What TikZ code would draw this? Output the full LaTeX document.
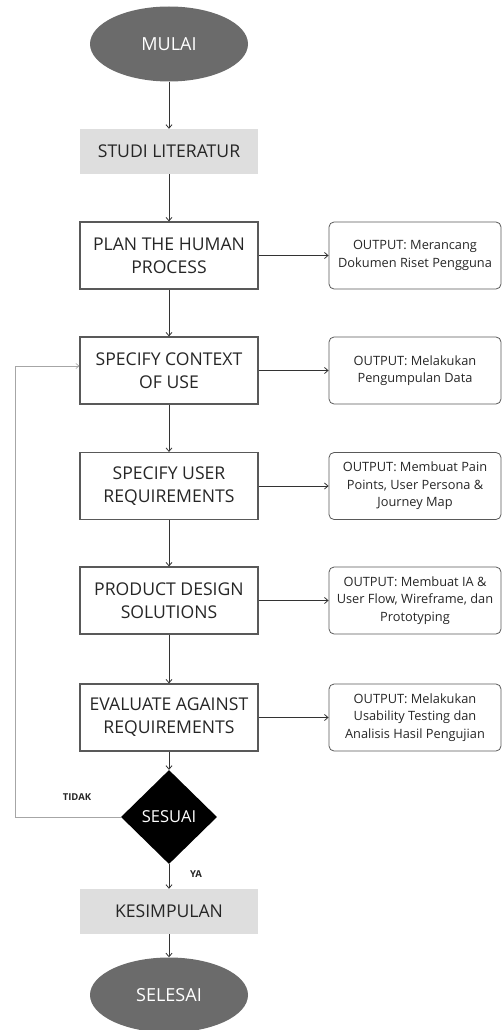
\documentclass[tikz,border=0pt]{standalone}
\usepackage{fontspec}
\setmainfont{Open Sans}
\usetikzlibrary{shapes.geometric,arrows.meta,positioning}
\begin{document}
\begin{tikzpicture}[x=1pt,y=-1pt,
  proc/.style={draw=black!65,line width=1.1pt,minimum width=178pt,minimum height=67pt,inner sep=0pt,align=center,font=\fontsize{17.6}{23}\selectfont,text=black!85},
  grayproc/.style={fill=black!13,draw=none,minimum width=178pt,minimum height=45pt,inner sep=0pt,font=\fontsize{17.6}{22}\selectfont,text=black!85},
  outbox/.style={draw=black!65,line width=0.8pt,rounded corners=5pt,minimum width=172pt,minimum height=67pt,inner sep=0pt,align=center,font=\fontsize{12.8}{17.6}\selectfont,text=black!85},
  term/.style={ellipse,fill=black!58,draw=none,minimum width=158pt,minimum height=75pt,inner sep=0pt,text=white,font=\fontsize{18}{20}\selectfont},
  decision/.style={diamond,fill=black,minimum width=96pt,minimum height=94pt,inner sep=0pt,text=white,font=\fontsize{16.5}{20}\selectfont},
  flow/.style={draw=black!80,line width=0.8pt,-{Straight Barb[length=3.5pt,width=6pt]}},
  back/.style={draw=black!35,line width=0.7pt,-{Straight Barb[length=3pt,width=5pt]}},
  lbl/.style={font=\bfseries\fontsize{9.5}{11}\selectfont,text=black!85}
]
\useasboundingbox (0,0) rectangle (502,1030);
\node[term] (mulai) at (169,44) {MULAI};
\node[grayproc] (studi) at (169,151.5) {STUDI LITERATUR};
\node[proc] (plan) at (169,255.5) {PLAN THE HUMAN\\PROCESS};
\node[proc] (ctx) at (169,370.5) {SPECIFY CONTEXT\\OF USE};
\node[proc] (user) at (169,486) {SPECIFY USER\\REQUIREMENTS};
\node[proc] (design) at (169,600.5) {PRODUCT DESIGN\\SOLUTIONS};
\node[proc] (eval) at (169,717.5) {EVALUATE AGAINST\\REQUIREMENTS};
\node[decision] (sesuai) at (169,817) {SESUAI};
\node[grayproc] (kes) at (169,911.5) {KESIMPULAN};
\node[term] (selesai) at (169,995) {SELESAI};

\node[outbox] (o1) at (415,255.5) {OUTPUT: Merancang\\Dokumen Riset Pengguna};
\node[outbox] (o2) at (415,370.5) {OUTPUT: Melakukan\\Pengumpulan Data};
\node[outbox] (o3) at (415,486) {OUTPUT: Membuat Pain\\Points, User Persona \&\\Journey Map};
\node[outbox] (o4) at (415,600.5) {OUTPUT: Membuat IA \&\\User Flow, Wireframe, dan\\Prototyping};
\node[outbox] (o5) at (415,717.5) {OUTPUT: Melakukan\\Usability Testing dan\\Analisis Hasil Pengujian};

\draw[flow] (mulai) -- (studi);
\draw[flow] (studi) -- (plan);
\draw[flow] (plan) -- (ctx);
\draw[flow] (ctx) -- (user);
\draw[flow] (user) -- (design);
\draw[flow] (design) -- (eval);
\draw[flow] (eval) -- (sesuai);
\draw[flow] (sesuai) -- (kes);
\draw[flow] (kes) -- (selesai);
\foreach \a/\b in {plan/o1,ctx/o2,user/o3,design/o4,eval/o5}
  \draw[flow] (\a) -- (\b);

\coordinate (c1) at (15,817);
\coordinate (c2) at (15,366);
\draw[back] (sesuai.west) -- (c1) -- (c2) -- (ctx.west |- c2);
\node[lbl] (tidak) at (77,797) {TIDAK};
\node[lbl] (ya) at (196,874) {YA};
\end{tikzpicture}
\end{document}
